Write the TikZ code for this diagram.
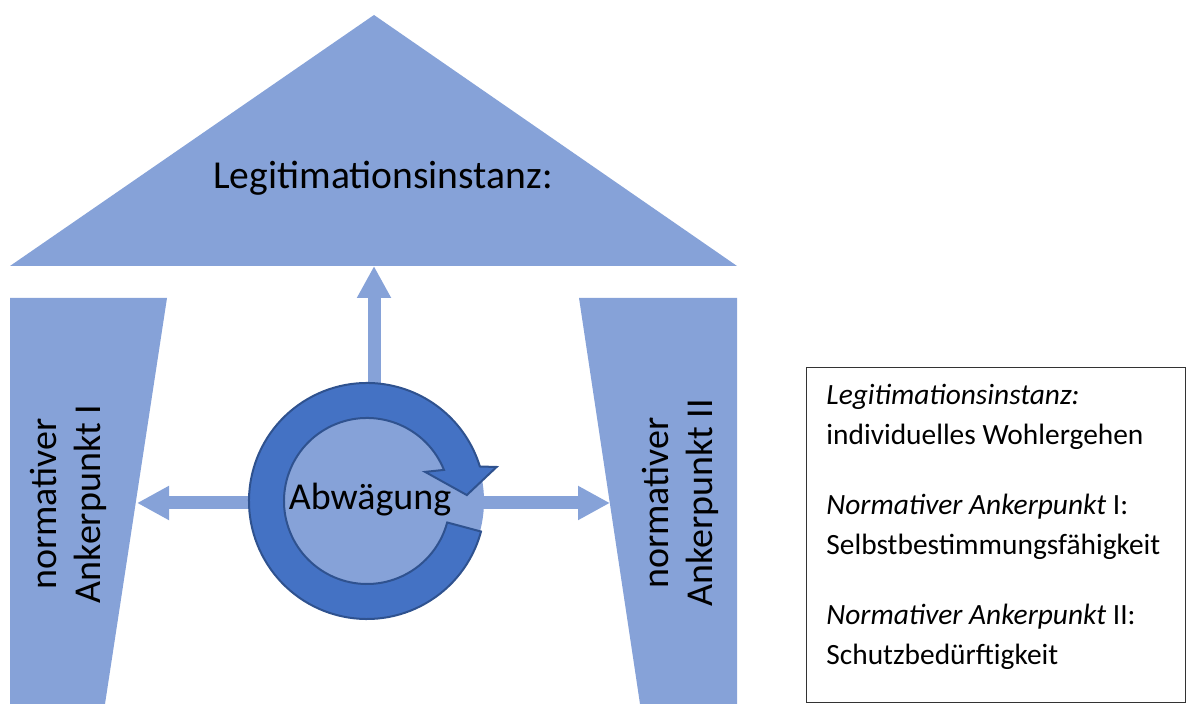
\documentclass[tikz,border=0pt]{standalone}
\usepackage{fontspec}
\setmainfont{Carlito}
\usetikzlibrary{arrows.meta,calc,positioning}

\definecolor{pale}{RGB}{134,162,216}
\definecolor{ringblue}{RGB}{68,114,196}
\definecolor{ringedge}{RGB}{47,82,143}

\tikzset{
  block/.style={fill=pale, draw=none},
  flow/.style={draw=pale, line width=6.5pt, -{Triangle[width=16pt,length=16pt]}},
  bigtext/.style={font=\fontsize{19}{22}\selectfont, align=center, inner sep=0pt},
  legend/.style={draw=black!80, line width=0.7pt, minimum width=189.5pt, minimum height=167.5pt},
  keytext/.style={align=left, inner sep=0pt, font=\fontsize{14.7}{20}\selectfont}
}

\begin{document}
\begin{tikzpicture}[x=0.5pt, y=0.5pt]
\useasboundingbox (0,0) rectangle (1187,704);

% roof and pillars
\fill[block] (10,438) -- (374,689) -- (737,438) -- cycle;
\fill[block] (10,406) -- (167,406) -- (105,0) -- (10,0) -- cycle;
\fill[block] (579,406) -- (737,406) -- (737,0) -- (640,0) -- cycle;

\node[bigtext, font=\fontsize{19.8}{22}\selectfont] (roof) at (383,526) {Legitimationsinstanz:};
\node[bigtext, rotate=90] (ankerI) at (68,200) {normativer\\Ankerpunkt I};
\node[bigtext, rotate=90] (ankerII) at (680,201) {normativer\\Ankerpunkt II};

% arrows from the centre
\coordinate (c) at (367,203);
\coordinate (roofbase) at (374,438);
\coordinate (leftend) at (137,201);
\coordinate (rightend) at (610,201);
\draw[flow] (c -| roofbase) -- (roofbase);
\draw[flow] (c |- leftend) -- (leftend);
\draw[flow] (c |- rightend) -- (rightend);

% weighing circle
\node[circle, fill=pale, minimum size=117pt, inner sep=0pt] (abw) at (c) {};
\fill[ringblue, draw=ringedge, line width=1pt]
  ($(c)+(-15:118)$) arc[start angle=-15, end angle=-343, radius=118]
  -- ($(c)+(14.7:134)$) -- ($(c)+(3.4:100)$) -- ($(c)+(26.6:65)$)
  -- ($(c)+(22:83)$) arc[start angle=22, end angle=345, radius=83] -- cycle;
\node[bigtext] (abwtext) at (370,204) {Abwägung};

% key
\node[legend, anchor=north west] (key) at (806,337) {};
\node[keytext, anchor=north west] (keytext) at (826,320) {%
\textit{Legitimationsinstanz:}\\
individuelles Wohlergehen\\[15pt]
\textit{Normativer Ankerpunkt} I:\\
Selbstbestimmungsfähigkeit\\[15pt]
\textit{Normativer Ankerpunkt} II:\\
Schutzbedürftigkeit};
\end{tikzpicture}
\end{document}
